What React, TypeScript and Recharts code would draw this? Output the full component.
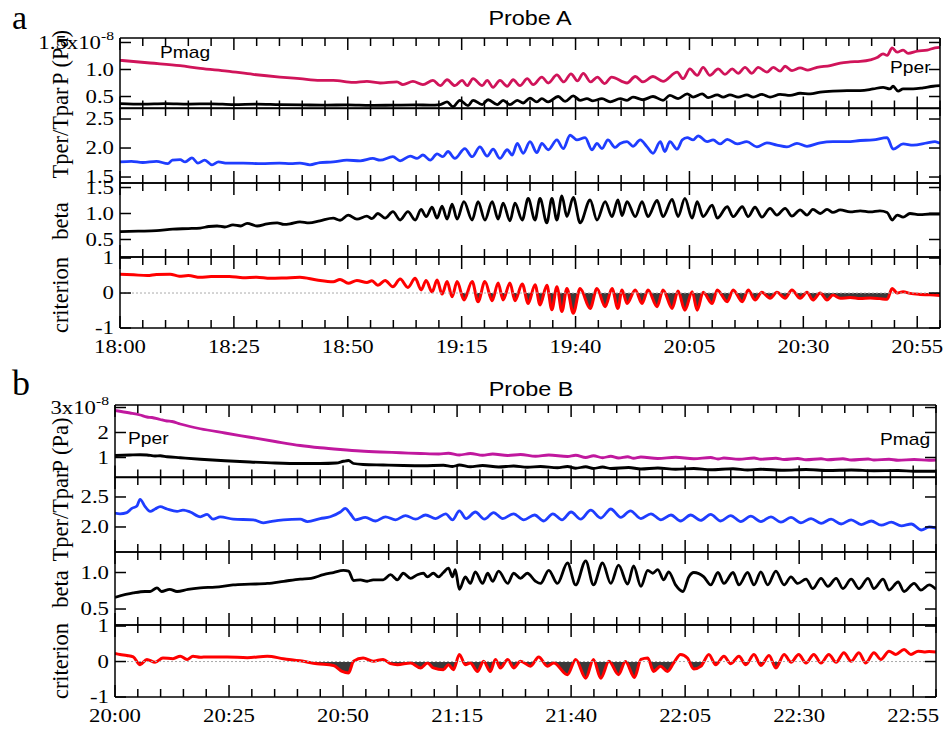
import React from 'react';
import { ComposedChart, Line, Area, XAxis, YAxis, ReferenceLine } from 'recharts';

type P = [number, number];

const W = 944;
const YW = 60;
const SERIF = '"Liberation Serif","Times New Roman",serif';
const SANS = '"Liberation Sans",Arial,sans-serif';
const AXIS = { stroke: '#000', strokeWidth: 1.5 };

const minuteTicks = [0, 5, 10, 15, 20, 25, 30, 35, 40, 45, 50, 55, 60, 65, 70, 75, 80, 85, 90, 95, 100, 105, 110, 115, 120, 125, 130, 135, 140, 145, 150, 155, 160, 165, 170, 175, 180];
const timeLabelsA = ['18:00', '18:25', '18:50', '19:15', '19:40', '20:05', '20:30', '20:55'];
const timeLabelsB = ['20:00', '20:25', '20:50', '21:15', '21:40', '22:05', '22:30', '22:55'];

const ticksPressA = [0.5, 1.0, 1.5];
const ticksRatioA = [1.5, 2.0, 2.5];
const ticksBetaA = [0.5, 1.0, 1.5];
const ticksCrit = [-1, 0, 1];
const ticksPressB = [1, 2, 3];
const ticksRatioB = [2.0, 2.5];
const ticksBetaB = [0.5, 1.0];

// ---------- Probe A (minutes after 18:00) ----------
const aPmag: P[] = [[0,1.17],[6.6,1.12],[13.2,1.07],[17.6,1.02],[23.5,0.97],[29.2,0.91],[35.1,0.86],[39.5,0.83],[43.9,0.80],[46.8,0.80],[51.2,0.76],[54.2,0.78],[57.1,0.75],[60.8,0.77],[62.1,0.72],[64.3,0.78],[66.5,0.72],[68.7,0.80],[70.3,0.70],[71.8,0.81],[73.5,0.70],[75.1,0.80],[76.2,0.70],[77.5,0.83],[79.5,0.70],[80.6,0.80],[81.9,0.67],[83.4,0.80],[85.0,0.69],[86.3,0.81],[87.8,0.70],[89.4,0.83],[90.7,0.72],[92.6,0.86],[94.0,0.75],[95.9,0.90],[97.4,0.77],[99.0,0.92],[100.4,0.79],[101.7,0.93],[103.3,0.77],[104.8,0.86],[106.4,0.74],[107.9,0.86],[111.3,0.75],[113.1,0.87],[114.8,0.77],[117.0,0.87],[119.2,0.78],[122.3,0.95],[123.6,0.83],[125.1,1.01],[126.7,0.89],[128.0,1.04],[129.5,0.89],[131.3,1.01],[132.8,0.91],[134.4,1.01],[135.7,0.93],[137.2,1.04],[138.7,0.93],[140.1,1.04],[142.0,0.95],[143.4,1.04],[144.9,0.97],[146.0,1.06],[147.5,0.98],[149.3,1.03],[151.0,0.99],[153.0,1.04],[155.9,1.07],[158.1,1.12],[160.3,1.14],[162.5,1.15],[164.7,1.18],[166.2,1.22],[167.5,1.29],[168.4,1.26],[169.5,1.40],[170.6,1.32],[171.9,1.36],[173.0,1.30],[175.0,1.34],[177.2,1.36],[178.9,1.40],[180,1.41]];
const aPper: P[] = [[0,0.37],[5,0.36],[10,0.37],[15,0.36],[20,0.365],[25,0.35],[30,0.36],[35,0.35],[40,0.345],[45,0.34],[50,0.345],[55,0.335],[60,0.34],[65,0.345],[68,0.34],[70.3,0.35],[71.8,0.40],[73.1,0.31],[74.6,0.43],[76.4,0.33],[77.5,0.43],[79.5,0.35],[80.8,0.44],[82.8,0.35],[84.1,0.43],[85.6,0.35],[87.2,0.43],[88.5,0.38],[90.0,0.47],[91.5,0.40],[92.6,0.46],[94.0,0.40],[96.2,0.50],[97.7,0.41],[99.5,0.51],[101.0,0.43],[102.5,0.46],[103.8,0.42],[105.8,0.46],[107.6,0.40],[109.8,0.46],[111.3,0.43],[112.6,0.49],[114.8,0.44],[117.0,0.50],[119.2,0.43],[120.7,0.52],[122.5,0.46],[124.5,0.55],[125.8,0.49],[127.8,0.55],[129.1,0.48],[131.1,0.53],[132.4,0.49],[133.9,0.53],[135.7,0.49],[137.6,0.53],[139.0,0.49],[140.9,0.54],[142.7,0.49],[144.9,0.54],[147.1,0.52],[149.3,0.56],[151.5,0.55],[153.7,0.58],[156.5,0.60],[159.6,0.61],[162.5,0.61],[165.3,0.64],[167.5,0.67],[169.0,0.64],[169.7,0.69],[170.8,0.60],[171.9,0.64],[174.1,0.64],[176.3,0.66],[178.5,0.69],[180,0.70]];
const aRatio: P[] = [[0,1.76],[2.5,1.77],[5,1.75],[8,1.77],[10.5,1.73],[11.5,1.79],[13.2,1.80],[14.3,1.76],[15.8,1.83],[17.1,1.74],[18.6,1.79],[20.2,1.71],[21.6,1.76],[23.5,1.74],[27,1.74],[31,1.73],[35,1.74],[37.5,1.73],[39.5,1.74],[41.7,1.71],[43.9,1.75],[46.8,1.76],[49.8,1.79],[52.7,1.78],[55.5,1.82],[57.1,1.79],[59.9,1.85],[61.5,1.78],[63.7,1.86],[65.2,1.82],[66.5,1.88],[68.1,1.79],[69.6,1.90],[70.9,1.85],[72.0,1.94],[73.5,1.82],[75.7,1.99],[77.3,1.85],[79.0,2.02],[80.6,1.86],[81.9,1.98],[83.4,1.82],[85.0,1.97],[86.1,1.88],[87.2,2.08],[88.5,1.91],[90.0,2.11],[91.5,1.92],[92.6,2.08],[94.0,1.97],[95.9,2.14],[97.3,1.99],[98.8,2.22],[100.3,2.14],[102.1,2.18],[103.6,1.97],[104.7,2.08],[105.8,1.99],[107.1,2.14],[108.7,2.01],[109.8,2.08],[111.3,2.11],[112.6,2.03],[114.2,2.14],[115.7,2.02],[117.0,1.91],[118.6,2.11],[119.6,1.94],[120.7,2.11],[122.3,1.98],[123.4,2.14],[124.5,2.18],[125.8,2.14],[126.9,2.21],[128.9,2.11],[130.2,2.14],[131.7,2.07],[133.3,2.15],[135.5,2.07],[137.6,2.11],[139.8,2.02],[142.0,2.09],[144.2,2.05],[146.4,2.02],[148.6,2.08],[150.8,2.03],[153.7,2.09],[156.5,2.11],[159.6,2.11],[162.5,2.13],[165.3,2.14],[168.4,2.18],[169.7,1.98],[171.9,2.07],[174.1,2.05],[177.2,2.09],[178.9,2.11],[180,2.08]];
const aBeta: P[] = [[0,0.65],[4,0.66],[8,0.67],[11.6,0.70],[15,0.71],[17.6,0.72],[19.5,0.75],[21.3,0.76],[23,0.74],[24.8,0.78],[26.5,0.76],[27.9,0.81],[30.1,0.76],[32.3,0.80],[34.5,0.82],[36,0.79],[37.3,0.80],[39.5,0.84],[41.5,0.82],[43.9,0.86],[46.8,0.91],[48.3,0.87],[50.1,0.97],[52.0,0.89],[54.2,0.95],[55.3,0.90],[56.6,1.00],[58.2,0.91],[59.9,1.035],[61.5,0.875],[63.2,1.035],[64.8,0.875],[66.1,1.08],[67.2,0.94],[68.5,1.12],[69.6,0.91],[70.7,1.14],[71.8,0.89],[72.9,1.18],[74.0,0.89],[75.5,1.23],[77.3,0.875],[78.6,1.23],[80.1,0.875],[81.7,1.23],[83.0,0.89],[84.1,1.20],[85.6,0.86],[86.7,1.20],[88.3,0.875],[89.6,1.29],[91.1,0.875],[92.2,1.29],[93.7,0.82],[94.8,1.29],[95.9,0.875],[97.0,1.34],[98.1,0.94],[99.5,1.31],[101.0,0.82],[103.2,1.26],[104.7,0.875],[106.5,1.23],[108.0,0.94],[109.3,1.26],[110.2,0.96],[111.3,1.23],[113.1,0.94],[114.6,1.23],[115.9,0.94],[117.9,1.25],[119.2,0.94],[121.2,1.27],[122.5,0.94],[124.0,1.29],[125.6,0.91],[126.7,1.23],[128.0,0.94],[130.0,1.16],[131.1,0.91],[133.3,1.13],[134.6,0.94],[136.6,1.13],[137.9,0.94],[139.4,1.12],[140.9,0.93],[142.7,1.10],[144.2,0.97],[146.0,1.10],[147.5,0.95],[149.3,1.07],[150.8,0.97],[152.1,1.08],[153.7,1.00],[155.2,1.08],[156.5,1.02],[158.1,1.07],[160.3,1.03],[162.5,1.05],[164.7,1.03],[166.8,1.05],[168.4,1.02],[169.5,0.875],[170.6,0.97],[171.9,0.93],[173.4,1.00],[175.6,0.98],[177.8,0.99],[180,0.99]];
const aCrit: P[] = [[0,0.54],[3,0.52],[6,0.50],[8,0.53],[11,0.54],[13,0.48],[15,0.50],[17.6,0.45],[20,0.47],[24,0.47],[27,0.44],[30,0.45],[33,0.42],[36,0.43],[39.5,0.45],[43.2,0.37],[46.8,0.32],[48.3,0.39],[50.1,0.28],[52.0,0.36],[54.2,0.30],[55.3,0.35],[56.6,0.22],[58.2,0.36],[59.9,0.18],[61.5,0.40],[63.2,0.16],[64.8,0.42],[66.1,0.09],[67.2,0.36],[68.5,0.03],[69.6,0.37],[70.7,-0.03],[71.8,0.33],[72.9,-0.11],[74.0,0.33],[75.5,-0.20],[77.3,0.33],[78.6,-0.25],[80.1,0.33],[81.7,-0.22],[83.0,0.29],[84.1,-0.20],[85.6,0.29],[86.7,-0.22],[88.3,0.26],[89.6,-0.30],[91.1,0.24],[92.2,-0.34],[93.7,0.22],[94.8,-0.48],[95.9,0.18],[97.0,-0.53],[98.1,0.13],[99.5,-0.58],[101.0,0.13],[103.2,-0.44],[104.7,0.13],[106.5,-0.39],[108.0,0.13],[109.3,-0.44],[110.2,0.09],[111.3,-0.30],[113.1,0.09],[114.6,-0.30],[115.9,0.09],[117.9,-0.39],[119.2,0.09],[121.2,-0.44],[122.5,0.06],[124.0,-0.49],[125.6,0.04],[126.7,-0.49],[128.0,0.02],[130.0,-0.30],[131.1,0.09],[133.3,-0.25],[134.6,0.09],[136.6,-0.25],[137.9,0.09],[139.4,-0.20],[140.9,0.02],[142.7,-0.15],[144.2,0.02],[146.0,-0.15],[147.5,0.09],[149.3,-0.15],[150.8,0.02],[152.1,-0.20],[153.7,0.00],[155.2,-0.20],[156.5,-0.06],[158.1,-0.15],[160.3,-0.13],[162.5,-0.16],[164.7,-0.14],[166.8,-0.16],[168.4,-0.18],[169.5,0.13],[170.6,0.00],[171.9,0.04],[173.4,-0.01],[175.6,-0.04],[177.8,-0.05],[180,-0.07]];

// ---------- Probe B (minutes after 20:00) ----------
const bPmag: P[] = [[0,2.88],[3.3,2.78],[5.5,2.70],[7.0,2.62],[8.1,2.60],[9.9,2.52],[11.4,2.46],[12.5,2.44],[14.3,2.34],[18.7,2.15],[24.1,1.98],[29.6,1.81],[35.1,1.64],[40.6,1.48],[45.0,1.39],[49.4,1.32],[53.8,1.26],[58.2,1.22],[62.6,1.19],[67,1.16],[71,1.14],[73.1,1.17],[75.5,1.10],[77.9,1.16],[80.6,1.09],[82.8,1.14],[86.1,1.08],[88.9,1.12],[92.2,1.05],[95.1,1.10],[99.2,1.04],[101.0,1.09],[103.2,1.00],[104.9,1.07],[106.9,0.99],[108.7,1.05],[110.4,0.98],[112.4,1.03],[113.7,0.97],[115.3,1.02],[119.0,0.96],[122.9,1.01],[126.9,0.95],[130.6,1.00],[132.2,0.94],[133.5,0.98],[136.8,0.93],[140.1,0.98],[141.6,0.93],[144.9,0.97],[146.7,0.92],[149.7,0.96],[151.5,0.91],[154.8,0.95],[156.3,0.91],[159.6,0.95],[161.4,0.90],[165.1,0.94],[166.4,0.90],[169.7,0.93],[171.7,0.89],[175.2,0.92],[178.5,0.89],[180,0.90]];
const bPper: P[] = [[0,1.08],[3.3,1.10],[5.5,1.11],[7.0,1.10],[8.8,1.06],[9.9,1.07],[11.4,1.03],[14.3,0.99],[18.7,0.93],[24.1,0.87],[29.6,0.82],[35.1,0.78],[40.6,0.76],[45.0,0.76],[48.5,0.78],[50.1,0.85],[51.2,0.88],[52.3,0.76],[54.4,0.72],[58.8,0.70],[63.2,0.68],[67.6,0.67],[72.0,0.69],[74.0,0.64],[75.5,0.70],[77.9,0.63],[80.6,0.68],[84.1,0.62],[87.4,0.66],[90.4,0.61],[93.3,0.64],[97.0,0.59],[99.2,0.64],[101.0,0.57],[103.2,0.63],[104.9,0.56],[106.9,0.62],[108.7,0.56],[112.6,0.60],[115.3,0.54],[119.0,0.58],[122.9,0.53],[126.9,0.56],[130.6,0.51],[135.5,0.55],[138.7,0.50],[141.6,0.53],[146.7,0.49],[151.5,0.52],[156.3,0.48],[161.4,0.50],[166.4,0.47],[171.7,0.48],[175.2,0.45],[180,0.45]];
const bRatio: P[] = [[0,2.23],[1.1,2.22],[2.6,2.24],[3.7,2.31],[4.8,2.35],[5.5,2.46],[6.6,2.34],[7.7,2.26],[8.8,2.30],[9.9,2.34],[11.4,2.30],[13.6,2.26],[14.9,2.28],[16.5,2.25],[18.7,2.17],[20.2,2.21],[21.5,2.13],[23.1,2.17],[25.9,2.13],[30.3,2.12],[32.5,2.07],[34.0,2.09],[36.9,2.12],[40.6,2.13],[42.2,2.09],[45.0,2.14],[47.2,2.17],[49.4,2.25],[50.5,2.31],[51.6,2.22],[52.7,2.12],[54.9,2.16],[57.1,2.10],[59.3,2.17],[61.5,2.12],[63.7,2.19],[65.9,2.13],[68.1,2.20],[70.3,2.14],[72.5,2.22],[74.0,2.12],[75.5,2.27],[77.0,2.14],[79.0,2.25],[81.0,2.13],[83.0,2.24],[85.0,2.14],[87.4,2.22],[89.6,2.12],[92.0,2.20],[94.0,2.10],[96.0,2.22],[98.0,2.12],[100.0,2.25],[102.1,2.13],[104.3,2.28],[106.5,2.15],[108.7,2.30],[110.9,2.16],[113.0,2.27],[115.3,2.14],[117.5,2.22],[119.7,2.12],[121.9,2.20],[124.0,2.10],[126.2,2.20],[128.4,2.11],[130.6,2.21],[132.8,2.10],[135.0,2.19],[137.2,2.09],[139.4,2.18],[141.6,2.09],[143.8,2.17],[146.0,2.08],[148.2,2.16],[150.4,2.07],[152.6,2.14],[154.8,2.06],[157.0,2.13],[159.2,2.05],[161.4,2.12],[163.6,2.04],[165.8,2.10],[168.0,2.03],[170.2,2.08],[172.4,2.02],[174.6,2.05],[176.8,1.95],[178.5,2.00],[180,1.98]];
const bBeta: P[] = [[0,0.66],[4.0,0.72],[6.6,0.74],[7.7,0.74],[9.2,0.79],[10.2,0.74],[12,0.77],[13.6,0.74],[16,0.77],[18.7,0.79],[22,0.80],[25.9,0.83],[29.6,0.84],[33.4,0.85],[37,0.88],[40.6,0.91],[43.0,0.92],[45.7,0.97],[47.9,1.00],[50.1,1.03],[51.2,1.02],[52.3,0.89],[53.8,0.90],[55.3,0.88],[56.6,0.90],[58.8,0.90],[60.4,0.97],[61.9,0.90],[63.2,0.99],[64.8,0.92],[66.3,0.97],[67.6,0.99],[68.5,0.94],[69.8,0.99],[70.9,0.94],[72.0,1.00],[73.1,1.06],[74.0,0.94],[74.6,1.04],[75.5,0.77],[76.8,0.94],[77.9,0.85],[79.0,1.01],[80.6,0.85],[81.7,0.99],[82.8,0.88],[84.1,1.02],[86.1,0.85],[87.4,0.99],[88.9,0.92],[90.4,0.99],[92.2,0.88],[93.3,0.85],[95.1,1.03],[97.0,0.85],[99.2,1.13],[101.0,0.83],[103.2,1.16],[104.9,0.83],[106.9,1.13],[108.7,0.85],[110.4,1.10],[112.4,0.84],[113.7,1.09],[115.3,0.81],[116.8,1.03],[117.9,0.99],[119.0,1.04],[120.3,0.90],[121.4,1.01],[122.9,0.83],[124.5,0.74],[125.8,0.94],[126.9,1.00],[129.1,0.94],[130.6,0.83],[132.2,1.00],[133.5,0.85],[135.5,1.00],[136.8,0.83],[138.7,1.00],[140.1,0.83],[141.6,1.01],[143.1,0.83],[144.9,1.02],[146.7,0.83],[148.2,0.94],[149.7,0.85],[151.5,0.91],[153.0,0.78],[154.8,0.92],[156.3,0.81],[158.1,0.92],[159.6,0.78],[161.4,0.91],[163.1,0.78],[165.1,0.92],[166.4,0.78],[168.4,0.91],[169.7,0.76],[171.7,0.87],[173.0,0.74],[175.2,0.85],[176.7,0.76],[178.5,0.83],[180,0.77]];
const bCrit: P[] = [[0,0.23],[1.1,0.20],[2.6,0.17],[4.0,0.13],[5.5,-0.09],[7.0,0.06],[8.8,-0.02],[10.5,0.10],[12.7,0.08],[14.3,0.15],[15.8,0.06],[17.1,0.15],[18.7,0.12],[20.2,0.13],[24.6,0.13],[29.0,0.11],[33.4,0.15],[36.9,0.08],[40.6,0.02],[44.3,-0.06],[47.9,-0.11],[49.8,-0.28],[51.2,-0.32],[52.3,0.01],[54.4,0.10],[56.6,0.01],[58.8,0.06],[60.4,-0.06],[61.9,-0.09],[64.8,-0.04],[67.0,-0.18],[68.5,-0.04],[69.8,-0.18],[72.0,-0.23],[73.1,-0.09],[74.2,-0.23],[75.5,0.20],[76.8,-0.09],[77.9,-0.04],[79.5,-0.28],[80.8,0.01],[82.3,-0.28],[83.4,0.06],[84.5,-0.18],[86.1,0.06],[87.4,-0.18],[88.9,0.01],[91.1,-0.13],[92.9,0.13],[94.8,-0.13],[96.2,-0.04],[99.2,-0.37],[101.0,0.06],[103.2,-0.47],[104.9,0.06],[106.5,-0.47],[108.3,0.01],[110.4,-0.37],[111.9,0.00],[113.9,-0.45],[115.3,0.06],[116.8,0.10],[118.1,-0.28],[119.6,-0.13],[121.1,-0.28],[122.5,-0.04],[124.0,0.20],[125.5,0.10],[126.9,-0.21],[128.5,-0.13],[130.2,0.20],[131.7,-0.09],[133.5,0.15],[135.0,-0.06],[136.8,0.15],[138.3,-0.09],[140.1,0.20],[141.6,-0.11],[143.4,0.17],[144.9,-0.18],[146.7,0.20],[148.2,-0.02],[149.9,0.20],[151.5,-0.04],[153.2,0.20],[154.8,-0.04],[156.5,0.20],[158.1,-0.02],[159.8,0.25],[161.4,0.01],[163.1,0.25],[164.6,-0.04],[166.4,0.25],[167.9,0.06],[169.7,0.29],[171.2,0.20],[173.0,0.34],[174.5,0.20],[176.1,0.29],[177.4,0.27],[178.5,0.28],[180,0.27]];

const rows = (pts: P[]) => pts.map(([t, v]) => ({ t, v }));

const sup = (base: string) => (
  <>
    {base}x10<tspan dy={-9} fontSize={13}>-8</tspan>
  </>
);

const bottomTick = (labels?: string[]) => (props: any) => {
  const { x, y, payload } = props;
  const m = payload.value as number;
  const major = m % 25 === 0;
  const len = major ? 12 : 8;
  const label = labels && major ? labels[m / 25] : undefined;
  return (
    <g>
      <line x1={x} x2={x} y1={y} y2={y - len} stroke="#000" strokeWidth={1.5} />
      {label ? (
        <text transform={`translate(${x},${y + 25}) scale(1.2,1)`} textAnchor="middle" fontFamily={SERIF} fontSize={19} fill="#000">
          {label}
        </text>
      ) : null}
    </g>
  );
};

const topTick = (props: any) => {
  const { x, y, payload } = props;
  const major = (payload.value as number) % 25 === 0;
  const len = major ? 12 : 8;
  return <line x1={x} x2={x} y1={y} y2={y + len} stroke="#000" strokeWidth={1.5} />;
};

const leftTick = (fmt: (v: number) => React.ReactNode) => (props: any) => {
  const { x, y, payload } = props;
  return (
    <g>
      <line x1={x} x2={x + 11} y1={y} y2={y} stroke="#000" strokeWidth={1.5} />
      <text transform={`translate(${x - 6},${y}) scale(1.2,1)`} dy="0.33em" textAnchor="end" fontFamily={SERIF} fontSize={19} fill="#000">
        {fmt(payload.value as number)}
      </text>
    </g>
  );
};

const rightTick = (props: any) => {
  const { x, y } = props;
  return <line x1={x} x2={x - 11} y1={y} y2={y} stroke="#000" strokeWidth={1.5} />;
};

const fmtPressA = (v: number) => (v === 1.5 ? sup('1.5') : v.toFixed(1));
const fmtPressB = (v: number) => (v === 3 ? sup('3') : String(v));
const fmt1 = (v: number) => v.toFixed(1);
const fmt0 = (v: number) => String(v);

interface PanelProps {
  top: number;
  bottom: number;
  left: number;
  right: number;
  domain: [number, number];
  yTicks: number[];
  yFmt: (v: number) => React.ReactNode;
  xLabels?: string[];
  data?: any[];
  children: React.ReactNode;
}

// each x axis takes 1px and the right y axis 1px; margins compensate so the plot box sits at [left,right]x[top,bottom]
function Panel({ top, bottom, left, right, domain, yTicks, yFmt, xLabels, data, children }: PanelProps) {
  const padT = 22;
  const padB = xLabels ? 36 : 22;
  const h = bottom - top + padT + padB;
  return (
    <div style={{ position: 'absolute', left: 0, top: top - padT, width: W, height: h }}>
      <ComposedChart width={W} height={h} data={data} margin={{ top: padT - 1, bottom: padB - 1, left: left - YW, right: W - right - 1 }}>
        <XAxis xAxisId="b" type="number" dataKey="t" domain={[0, 180]} allowDataOverflow ticks={minuteTicks} interval={0} height={1} axisLine={AXIS} tickLine={false} tickSize={0} tickMargin={0} tick={bottomTick(xLabels)} />
        <XAxis xAxisId="t" orientation="top" type="number" dataKey="t" domain={[0, 180]} allowDataOverflow ticks={minuteTicks} interval={0} height={1} axisLine={AXIS} tickLine={false} tickSize={0} tickMargin={0} tick={topTick} />
        <YAxis yAxisId="l" type="number" domain={domain} allowDataOverflow ticks={yTicks} interval={0} width={YW} axisLine={AXIS} tickLine={false} tickSize={0} tickMargin={0} tick={leftTick(yFmt)} />
        <YAxis yAxisId="r" orientation="right" type="number" domain={domain} allowDataOverflow ticks={yTicks} interval={0} width={1} axisLine={AXIS} tickLine={false} tickSize={0} tickMargin={0} tick={rightTick} />
        {children}
      </ComposedChart>
    </div>
  );
}

const splitOffset = (pts: P[]) => {
  const vals = pts.map((p) => p[1]);
  const max = Math.max(...vals, 0);
  const min = Math.min(...vals, 0);
  return max / (max - min);
};

const lineProps = { xAxisId: 'b', yAxisId: 'l', dataKey: 'v', type: 'monotone' as const, dot: false, activeDot: false, isAnimationActive: false, strokeWidth: 2.8, strokeLinejoin: 'round' as const };

export default function App() {
  const offA = splitOffset(aCrit);
  const offB = splitOffset(bCrit);
  const AL = 120, AR = 940;
  const BL = 115, BR = 936;
  return (
    <div style={{ position: 'absolute', left: 0, top: 0, width: W, height: 731, background: '#fff', overflow: 'hidden' }}>
      {/* Probe A */}
      <Panel top={37.5} bottom={108} left={AL} right={AR} domain={[0.278, 1.583]} yTicks={ticksPressA} yFmt={fmtPressA}>
        <Line {...lineProps} data={rows(aPper)} stroke="#000" />
        <Line {...lineProps} data={rows(aPmag)} stroke="#d0145a" />
      </Panel>
      <Panel top={108} bottom={183} left={AL} right={AR} domain={[1.397, 2.69]} yTicks={ticksRatioA} yFmt={fmt1} data={rows(aRatio)}>
        <Line {...lineProps} stroke="#1f3dff" />
      </Panel>
      <Panel top={183} bottom={257} left={AL} right={AR} domain={[0.163, 1.587]} yTicks={ticksBetaA} yFmt={fmt1} data={rows(aBeta)}>
        <Line {...lineProps} stroke="#000" />
      </Panel>
      <Panel top={257} bottom={328} left={AL} right={AR} domain={[-1, 1.03]} yTicks={ticksCrit} yFmt={fmt0} xLabels={timeLabelsA} data={rows(aCrit)}>
        <defs>
          <linearGradient id="critFillA" x1="0" y1="0" x2="0" y2="1">
            <stop offset={offA} stopColor="#3a3a3a" stopOpacity={0} />
            <stop offset={offA} stopColor="#3a3a3a" stopOpacity={1} />
          </linearGradient>
        </defs>
        <ReferenceLine xAxisId="b" yAxisId="l" y={0} stroke="#aaa" strokeDasharray="2 2" strokeWidth={1} />
        <Area xAxisId="b" yAxisId="l" dataKey="v" type="monotone" baseValue={0} stroke="#ff0000" strokeWidth={3} fill="url(#critFillA)" fillOpacity={1} dot={false} activeDot={false} isAnimationActive={false} />
      </Panel>

      {/* Probe B */}
      <Panel top={404.5} bottom={477} left={BL} right={BR} domain={[0.2, 3.1]} yTicks={ticksPressB} yFmt={fmtPressB}>
        <Line {...lineProps} data={rows(bPper)} stroke="#000" />
        <Line {...lineProps} data={rows(bPmag)} stroke="#c0189e" />
      </Panel>
      <Panel top={477} bottom={552} left={BL} right={BR} domain={[1.583, 2.833]} yTicks={ticksRatioB} yFmt={fmt1} data={rows(bRatio)}>
        <Line {...lineProps} stroke="#1f3dff" />
      </Panel>
      <Panel top={552} bottom={625} left={BL} right={BR} domain={[0.281, 1.281]} yTicks={ticksBetaB} yFmt={fmt1} data={rows(bBeta)}>
        <Line {...lineProps} stroke="#000" />
      </Panel>
      <Panel top={625} bottom={697} left={BL} right={BR} domain={[-1, 1.03]} yTicks={ticksCrit} yFmt={fmt0} xLabels={timeLabelsB} data={rows(bCrit)}>
        <defs>
          <linearGradient id="critFillB" x1="0" y1="0" x2="0" y2="1">
            <stop offset={offB} stopColor="#3a3a3a" stopOpacity={0} />
            <stop offset={offB} stopColor="#3a3a3a" stopOpacity={1} />
          </linearGradient>
        </defs>
        <ReferenceLine xAxisId="b" yAxisId="l" y={0} stroke="#aaa" strokeDasharray="2 2" strokeWidth={1} />
        <Area xAxisId="b" yAxisId="l" dataKey="v" type="monotone" baseValue={0} stroke="#ff0000" strokeWidth={3} fill="url(#critFillB)" fillOpacity={1} dot={false} activeDot={false} isAnimationActive={false} />
      </Panel>

      <svg width={W} height={731} style={{ position: 'absolute', left: 0, top: 0, pointerEvents: 'none' }}>
        <text x={12} y={29} fontFamily={SERIF} fontSize={34} fill="#000">a</text>
        <text x={12} y={395} fontFamily={SERIF} fontSize={36} fill="#000">b</text>
        <text transform="translate(530,25) scale(1.2,1)" textAnchor="middle" fontFamily={SANS} fontSize={19.5} fill="#000">Probe A</text>
        <text transform="translate(531,396) scale(1.2,1)" textAnchor="middle" fontFamily={SANS} fontSize={19.5} fill="#000">Probe B</text>
        <text transform="translate(160,58) scale(1.2,1)" fontFamily={SANS} fontSize={16} fill="#000">Pmag</text>
        <text transform="translate(890,73) scale(1.2,1)" fontFamily={SANS} fontSize={16} fill="#000">Pper</text>
        <text transform="translate(128,444) scale(1.2,1)" fontFamily={SANS} fontSize={16} fill="#000">Pper</text>
        <text transform="translate(880,445) scale(1.2,1)" fontFamily={SANS} fontSize={16} fill="#000">Pmag</text>
        {[
          ['P (Pa)', 57.5],
          ['Tper/Tpar', 133],
          ['beta', 221],
          ['criterion', 295],
          ['P (Pa)', 445],
          ['Tper/Tpar', 516],
          ['beta', 589],
          ['criterion', 661],
        ].map(([s, cy], i) => (
          <text key={i} transform={`translate(68,${cy}) rotate(-90)`} textAnchor="middle" fontFamily={SERIF} fontSize={22.5} fill="#000">
            {s}
          </text>
        ))}
      </svg>
    </div>
  );
}
